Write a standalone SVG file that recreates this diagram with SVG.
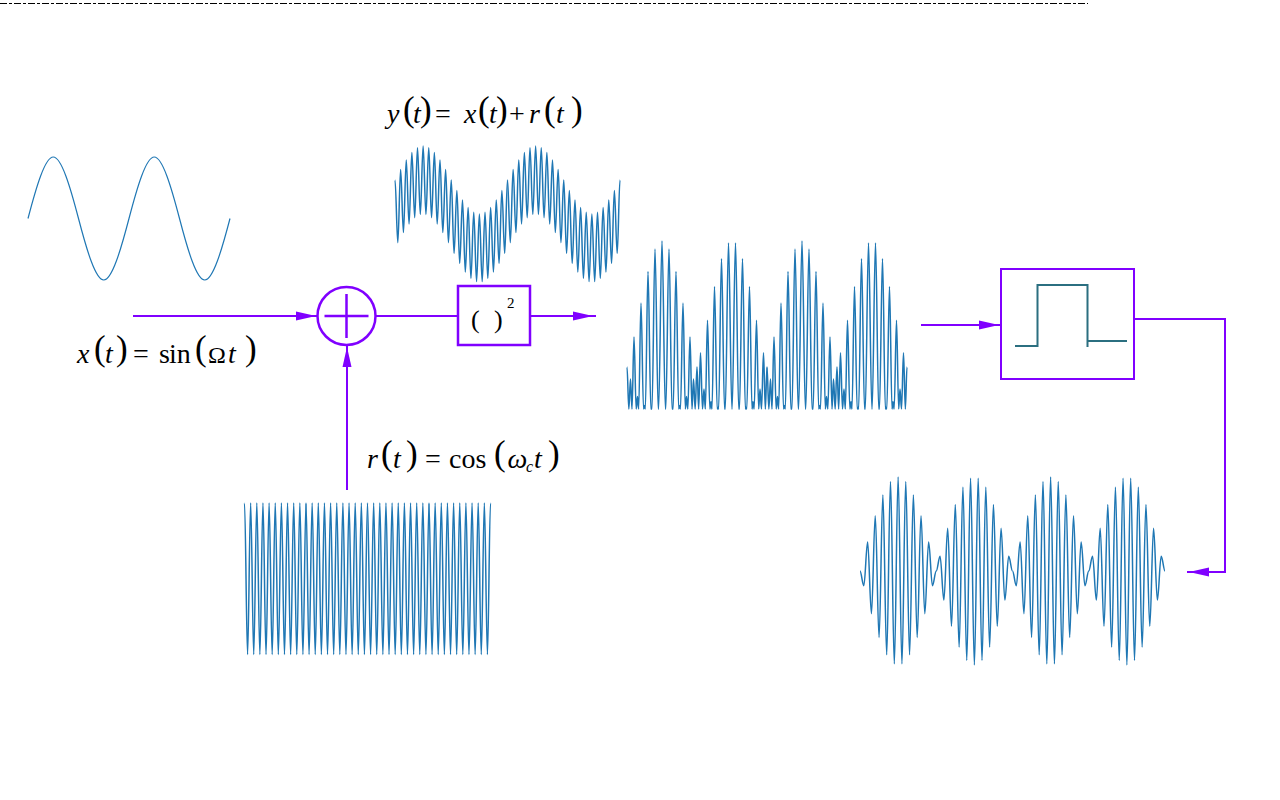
<svg xmlns="http://www.w3.org/2000/svg" width="1280" height="800" viewBox="0 0 1280 800">
<style>
.w{fill:none;stroke:#1f77b4;stroke-width:1.5;stroke-linejoin:round}
.c{fill:none;stroke:#8000ff;stroke-width:2}
.b{fill:none;stroke:#8000ff;stroke-width:2.5}
.ah{fill:#8000ff}
.m{font-family:"Liberation Serif","Times New Roman",serif;fill:#000}
.i{font-style:italic;font-size:28px}
.r{font-size:28px}
.p{font-size:35px}
</style>
<defs>
<path id="ah" class="ah" d="M0,0 L-20,-4.5 L-20,4.5 Z"/>
<path id="rc" class="w" d="M0,0 c1.117,0 1.958,151.5 3.075,151.5 s1.958,-151.5 3.075,-151.5 s1.958,151.5 3.075,151.5 s1.958,-151.5 3.075,-151.5 s1.958,151.5 3.075,151.5 s1.958,-151.5 3.075,-151.5 s1.958,151.5 3.075,151.5 s1.958,-151.5 3.075,-151.5 s1.958,151.5 3.075,151.5 s1.958,-151.5 3.075,-151.5 s1.958,151.5 3.075,151.5 s1.958,-151.5 3.075,-151.5 s1.958,151.5 3.075,151.5 s1.958,-151.5 3.075,-151.5 s1.958,151.5 3.075,151.5 s1.958,-151.5 3.075,-151.5 s1.958,151.5 3.075,151.5 s1.958,-151.5 3.075,-151.5 s1.958,151.5 3.075,151.5 s1.958,-151.5 3.075,-151.5"/>
</defs>
<rect width="1280" height="800" fill="#fff"/>
<line x1="0" y1="3.5" x2="1088" y2="3.5" stroke="#000" stroke-width="1" stroke-dasharray="7,2,3,2"/>

<g id="wave-x">
<path fill="none" stroke="#1f77b4" stroke-width="1.2" d="M28,218.5 C36.23,187.02 45.02,157 53.25,157 S70.27,187.02 78.5,218.5 S95.52,280 103.75,280 S120.77,249.98 129,218.5 S146.02,157 154.25,157 S171.27,187.02 179.5,218.5 S196.52,280 204.75,280 S221.77,249.98 230,218.5"/>
</g>

<g id="wave-y">
<path id="yc" class="w" d="M395,180 c1.022,0 1.79,62.68 2.8125,62.68 s1.79,-73.19 2.8125,-73.19 s1.79,63.07 2.8125,63.07 s1.79,-72.55 2.8125,-72.55 s1.79,63.95 2.8125,63.95 s1.79,-71.47 2.8125,-71.47 s1.79,65.22 2.8125,65.22 s1.79,-70.05 2.8125,-70.05 s1.79,66.76 2.8125,66.76 s1.79,-68.42 2.8125,-68.42 s1.79,68.42 2.8125,68.42 s1.79,-66.76 2.8125,-66.76 s1.79,70.05 2.8125,70.05 s1.79,-65.22 2.8125,-65.22 s1.79,71.47 2.8125,71.47 s1.79,-63.95 2.8125,-63.95 s1.79,72.55 2.8125,72.55 s1.79,-63.07 2.8125,-63.07 s1.79,73.19 2.8125,73.19 s1.79,-62.68 2.8125,-62.68 s1.79,73.32 2.8125,73.32 s1.79,-62.81 2.8125,-62.81 s1.79,72.93 2.8125,72.93 s1.79,-63.45 2.8125,-63.45 s1.79,72.05 2.8125,72.05 s1.79,-64.53 2.8125,-64.53 s1.79,70.78 2.8125,70.78 s1.79,-65.95 2.8125,-65.95 s1.79,69.24 2.8125,69.24 s1.79,-67.58 2.8125,-67.58 s1.79,67.58 2.8125,67.58 s1.79,-69.24 2.8125,-69.24 s1.79,65.95 2.8125,65.95 s1.79,-70.78 2.8125,-70.78 s1.79,64.53 2.8125,64.53 s1.79,-72.05 2.8125,-72.05 s1.79,63.45 2.8125,63.45 s1.79,-72.93 2.8125,-72.93 s1.79,62.81 2.8125,62.81 s1.79,-73.32 2.8125,-73.32"/>
<use href="#yc" x="112.5"/>
</g>

<g id="wave-r" transform="translate(244.5,503)">
<use href="#rc"/>
<use href="#rc" x="61.5"/>
<use href="#rc" x="123"/>
<use href="#rc" x="184.5"/>
</g>

<g id="wave-sq">
<path id="sq" class="w" d="M627,367 c.67,0 1.17,42 1.84,42 c.6,0 1.06,-29.89 1.66,-29.89 c.54,0 .95,29.89 1.49,29.89 c.73,0 1.28,-71.97 2.01,-71.97 c.8,0 1.39,71.97 2.19,71.97 c.48,0 .83,-12.52 1.31,-12.52 c.41,0 .73,12.52 1.14,12.52 c.86,0 1.5,-105.89 2.36,-105.89 c.92,0 1.62,105.89 2.54,105.89 c.35,0 .61,-3.6 .96,-3.6 c.29,0 .5,3.6 .79,3.6 c.98,0 1.73,-137.45 2.71,-137.45 c1.05,0 1.84,137.45 2.89,137.45 c.22,0 .39,-.5 .61,-.5 c.16,0 .28,.5 .44,.5 c1.11,0 1.95,-159.89 3.06,-159.89 c1.18,0 2.06,159.89 3.24,159.89 h.35 c1.24,0 2.17,-168 3.41,-168 c1.24,0 2.17,168 3.41,168 h.35 c1.18,0 2.06,-159.89 3.24,-159.89 c1.11,0 1.95,159.89 3.06,159.89 c.16,0 .28,-.5 .44,-.5 c.22,0 .39,.5 .61,.5 c1.05,0 1.84,-137.45 2.89,-137.45 c.98,0 1.73,137.45 2.71,137.45 c.29,0 .5,-3.6 .79,-3.6 c.35,0 .61,3.6 .96,3.6 c.92,0 1.62,-105.89 2.54,-105.89 c.86,0 1.5,105.89 2.36,105.89 c.41,0 .73,-12.52 1.14,-12.52 c.48,0 .83,12.52 1.31,12.52 c.8,0 1.39,-71.97 2.19,-71.97 c.73,0 1.28,71.97 2.01,71.97 c.54,0 .95,-29.89 1.49,-29.89 c.6,0 1.06,29.89 1.66,29.89 c.67,0 1.17,-42 1.84,-42 c.6,0 1.06,42 1.66,42 c.67,0 1.17,-56.17 1.84,-56.17 c.73,0 1.28,56.17 2.01,56.17 c.54,0 .95,-20.06 1.49,-20.06 c.48,0 .83,20.06 1.31,20.06 c.8,0 1.39,-88.79 2.19,-88.79 c.86,0 1.5,88.79 2.36,88.79 c.41,0 .73,-7.14 1.14,-7.14 c.35,0 .61,7.14 .96,7.14 c.92,0 1.62,-122.4 2.54,-122.4 c.98,0 1.73,122.4 2.71,122.4 c.29,0 .5,-1.53 .79,-1.53 c.22,0 .39,1.53 .61,1.53 c1.05,0 1.84,-150.19 2.89,-150.19 c1.11,0 1.95,150.19 3.06,150.19 c.16,0 .28,-.1 .44,-.1 c.09,0 .17,.1 .26,.1 c1.18,0 2.06,-165.94 3.24,-165.94 c1.24,0 2.17,165.94 3.41,165.94 h.18 c1.24,0 2.17,-165.94 3.41,-165.94 c1.18,0 2.06,165.94 3.24,165.94 c.09,0 .17,-.1 .26,-.1 c.16,0 .28,.1 .44,.1 c1.11,0 1.95,-150.19 3.06,-150.19 c1.05,0 1.84,150.19 2.89,150.19 c.22,0 .39,-1.53 .61,-1.53 c.29,0 .5,1.53 .79,1.53 c.98,0 1.73,-122.4 2.71,-122.4 c.92,0 1.62,122.4 2.54,122.4 c.35,0 .61,-7.14 .96,-7.14 c.41,0 .73,7.14 1.14,7.14 c.86,0 1.5,-88.79 2.36,-88.79 c.8,0 1.39,88.79 2.19,88.79 c.48,0 .83,-20.06 1.31,-20.06 c.54,0 .95,20.06 1.49,20.06 c.73,0 1.28,-56.17 2.01,-56.17 c.67,0 1.17,56.17 1.84,56.17 c.6,0 1.06,-42 1.66,-42"/>
<use href="#sq" x="140"/>
</g>

<g id="wave-out">
<path id="am" class="w" d="M860,571 c1.386,0 2.427,14.7 3.8125,14.7 s2.427,-43.75 3.8125,-43.75 s2.427,71.73 3.8125,71.73 s2.427,-97.93 3.8125,-97.93 s2.427,121.72 3.8125,121.72 s2.427,-142.52 3.8125,-142.52 s2.427,159.8 3.8125,159.8 s2.427,-173.15 3.8125,-173.15 s2.427,182.24 3.8125,182.24 s2.427,-186.84 3.8125,-186.84 s2.427,186.84 3.8125,186.84 s2.427,-182.24 3.8125,-182.24 s2.427,173.15 3.8125,173.15 s2.427,-159.8 3.8125,-159.8 s2.427,142.52 3.8125,142.52 s2.427,-121.72 3.8125,-121.72 s2.427,97.93 3.8125,97.93 s2.427,-71.73 3.8125,-71.73 s2.427,43.75 3.8125,43.75 s2.427,-14.7 3.8125,-14.7 s2.427,-14.7 3.8125,-14.7 s2.427,43.75 3.8125,43.75 s2.427,-71.73 3.8125,-71.73 s2.427,97.93 3.8125,97.93 s2.427,-121.72 3.8125,-121.72 s2.427,142.52 3.8125,142.52 s2.427,-159.8 3.8125,-159.8 s2.427,173.15 3.8125,173.15 s2.427,-182.24 3.8125,-182.24 s2.427,186.84 3.8125,186.84 s2.427,-186.84 3.8125,-186.84 s2.427,182.24 3.8125,182.24 s2.427,-173.15 3.8125,-173.15 s2.427,159.8 3.8125,159.8 s2.427,-142.52 3.8125,-142.52 s2.427,121.72 3.8125,121.72 s2.427,-97.93 3.8125,-97.93 s2.427,71.73 3.8125,71.73 s2.427,-43.75 3.8125,-43.75 s2.427,14.7 3.8125,14.7"/>
<use href="#am" x="152.5"/>
</g>

<g id="connectors">
<path class="c" d="M133,316 H318"/>
<use href="#ah" transform="translate(316,316)"/>
<path class="c" d="M347,490 V345"/>
<use href="#ah" transform="translate(347,347) rotate(-90)"/>
<path class="c" d="M375.5,316 H458"/>
<path class="c" d="M530,316 H596"/>
<use href="#ah" transform="translate(593,316)"/>
<path class="c" d="M921,325 H1001"/>
<use href="#ah" transform="translate(999,325)"/>
<path class="c" d="M1134,319 H1225 V572 H1187"/>
<use href="#ah" transform="translate(1189,572) rotate(180)"/>
</g>

<g id="sum">
<circle class="b" cx="346.5" cy="316" r="29"/>
<path class="b" d="M324.5,316 H368.5 M346.5,294 V338"/>
</g>

<g id="square">
<rect class="b" x="458" y="286" width="72" height="59"/>
<text class="m" font-size="26" x="471" y="328">(</text>
<text class="m" font-size="26" x="494" y="328">)</text>
<text class="m" font-size="15" x="507" y="308">2</text>
</g>

<g id="filter">
<rect class="c" x="1001" y="269" width="133" height="110"/>
<path fill="none" stroke="#2b6f80" stroke-width="2" d="M1015,346 H1037.5 V285 H1087.5 V347 M1087.5,341 H1127"/>
</g>

<g id="label-y">
<text class="m">
<tspan class="i" x="387" y="123">y</tspan><tspan class="p" x="403" y="120.5">(</tspan><tspan class="i" x="413" y="123">t</tspan><tspan class="p" x="420" y="120.5">)</tspan><tspan class="r" x="435" y="123">=</tspan><tspan class="i" x="464" y="123">x</tspan><tspan class="p" x="478" y="120.5">(</tspan><tspan class="i" x="489" y="123">t</tspan><tspan class="p" x="496" y="120.5">)</tspan><tspan class="r" x="509" y="123">+</tspan><tspan class="i" x="529" y="123">r</tspan><tspan class="p" x="544" y="120.5">(</tspan><tspan class="i" x="556" y="123">t</tspan><tspan class="p" x="571" y="120.5">)</tspan>
</text>
</g>

<g id="label-x">
<text class="m">
<tspan class="i" x="77" y="363">x</tspan><tspan class="p" x="94" y="360">(</tspan><tspan class="i" x="105" y="363">t</tspan><tspan class="p" x="116" y="360">)</tspan><tspan class="r" x="133" y="363">=</tspan><tspan class="r" x="159" y="363">s</tspan><tspan class="r" x="169" y="363">in</tspan><tspan class="p" x="195" y="360">(</tspan><tspan font-size="24" x="208" y="363">Ω</tspan><tspan class="i" x="228" y="363">t</tspan><tspan class="p" x="245" y="360">)</tspan>
</text>
</g>

<g id="label-r">
<text class="m">
<tspan class="i" x="367" y="468">r</tspan><tspan class="p" x="381" y="465">(</tspan><tspan class="i" x="393" y="468">t</tspan><tspan class="p" x="406" y="465">)</tspan><tspan class="r" x="425" y="468">=</tspan><tspan class="r" x="449" y="468">cos</tspan><tspan class="p" x="494" y="465">(</tspan><tspan class="i" x="507.5" y="468">ω</tspan><tspan font-style="italic" font-size="16" x="526" y="472">c</tspan><tspan class="i" x="534" y="468">t</tspan><tspan class="p" x="548" y="465">)</tspan>
</text>
</g>
</svg>
